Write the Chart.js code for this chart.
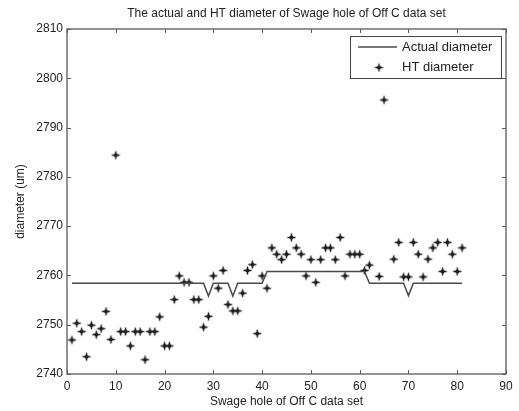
<!DOCTYPE html>
<html>
<head>
<meta charset="utf-8">
<script src="https://cdn.jsdelivr.net/npm/chart.js@4/dist/chart.umd.min.js"></script>
<style>
  html, body { margin: 0; padding: 0; background: #fff; }
  #wrap { width: 519px; height: 411px; }
</style>
</head>
<body>
<div id="wrap"><canvas id="cadre" width="519" height="411"></canvas></div>
<script>
const titleText = "The actual and HT diameter of Swage hole of Off C data set";
const xTitle = "Swage hole of Off C data set";
const yTitle = "diameter (um)";

const holes = [1, 2, 3, 4, 5, 6, 7, 8, 9, 10, 11, 12, 13, 14, 15, 16, 17, 18, 19, 20,
  21, 22, 23, 24, 25, 26, 27, 28, 29, 30, 31, 32, 33, 34, 35, 36, 37, 38, 39, 40,
  41, 42, 43, 44, 45, 46, 47, 48, 49, 50, 51, 52, 53, 54, 55, 56, 57, 58, 59, 60,
  61, 62, 63, 64, 65, 66, 67, 68, 69, 70, 71, 72, 73, 74, 75, 76, 77, 78, 79, 80, 81];

const actualDiameter = [2758.4, 2758.4, 2758.4, 2758.4, 2758.4, 2758.4, 2758.4, 2758.4, 2758.4, 2758.4,
  2758.4, 2758.4, 2758.4, 2758.4, 2758.4, 2758.4, 2758.4, 2758.4, 2758.4, 2758.4,
  2758.4, 2758.4, 2758.4, 2758.4, 2758.4, 2758.4, 2758.4, 2758.4, 2755.8, 2758.4,
  2758.4, 2758.4, 2758.4, 2755.8, 2758.4, 2758.4, 2758.4, 2758.4, 2758.4, 2758.4,
  2760.8, 2760.8, 2760.8, 2760.8, 2760.8, 2760.8, 2760.8, 2760.8, 2760.8, 2760.8,
  2760.8, 2760.8, 2760.8, 2760.8, 2760.8, 2760.8, 2760.8, 2760.8, 2760.8, 2760.8,
  2760.8, 2758.4, 2758.4, 2758.4, 2758.4, 2758.4, 2758.4, 2758.4, 2758.4, 2755.9,
  2758.4, 2758.4, 2758.4, 2758.4, 2758.4, 2758.4, 2758.4, 2758.4, 2758.4, 2758.4, 2758.4];

const htDiameter = [2746.9, 2750.3, 2748.6, 2743.5, 2749.9, 2748.0, 2749.2, 2752.7, 2747.0, 2784.4,
  2748.6, 2748.6, 2745.7, 2748.6, 2748.6, 2742.9, 2748.6, 2748.6, 2751.6, 2745.7,
  2745.7, 2755.1, 2759.9, 2758.6, 2758.6, 2755.1, 2755.1, 2749.5, 2751.7, 2759.9,
  2757.4, 2761.0, 2754.1, 2752.8, 2752.8, 2756.4, 2761.0, 2762.2, 2748.2, 2759.9,
  2757.4, 2765.6, 2764.3, 2763.2, 2764.3, 2767.7, 2765.6, 2764.3, 2759.9, 2763.2,
  2758.6, 2763.2, 2765.6, 2765.6, 2763.2, 2767.7, 2759.9, 2764.3, 2764.3, 2764.3,
  2761.0, 2762.1, null, 2759.8, 2795.6, null, 2763.3, 2766.7, 2759.7, 2759.7,
  2766.7, 2764.3, 2759.7, 2763.3, 2765.6, 2766.7, 2760.8, 2766.7, 2764.3, 2760.8, 2765.6];

const xTicks = [0, 10, 20, 30, 40, 50, 60, 70, 80, 90];
const yTicks = [2740, 2750, 2760, 2770, 2780, 2790, 2800, 2810];

const fontName = "'Liberation Sans', Arial, sans-serif";
const axisColor = "#5a5a5a";

// marker like the blurred matlab star: a plus with a filled diamond in the middle
function makeMarker() {
  let c = document.createElement("canvas");
  c.width = 11;
  c.height = 11;
  let g = c.getContext("2d");
  g.fillStyle = "#1e1e1e";
  g.strokeStyle = "#1e1e1e";
  g.lineWidth = 1.4;
  g.beginPath();
  g.moveTo(5.5, 1.5); g.lineTo(5.5, 9.5);
  g.moveTo(1.5, 5.5); g.lineTo(9.5, 5.5);
  g.stroke();
  g.beginPath();
  g.moveTo(5.5, 2.8); g.lineTo(8.2, 5.5); g.lineTo(5.5, 8.2); g.lineTo(2.8, 5.5);
  g.closePath();
  g.fill();
  return c;
}
const marker = makeMarker();

// frame, inside ticks, titles and legend drawn like the matlab figure
const matlabFrame = {
  id: "matlabFrame",
  afterDraw(chart) {
    const ctx = chart.ctx;
    const area = chart.chartArea;
    const sx = chart.scales.x;
    const sy = chart.scales.y;
    ctx.save();
    ctx.strokeStyle = axisColor;
    ctx.lineWidth = 1.3;
    ctx.strokeRect(area.left, area.top, area.right - area.left, area.bottom - area.top);

    ctx.lineWidth = 1;
    ctx.beginPath();
    xTicks.forEach(v => {
      let px = Math.round(sx.getPixelForValue(v)) + 0.5;
      ctx.moveTo(px, area.bottom);
      ctx.lineTo(px, area.bottom - 4);
      ctx.moveTo(px, area.top);
      ctx.lineTo(px, area.top + 4);
    });
    yTicks.forEach(v => {
      let py = Math.round(sy.getPixelForValue(v)) + 0.5;
      ctx.moveTo(area.left, py);
      ctx.lineTo(area.left + 4, py);
      ctx.moveTo(area.right, py);
      ctx.lineTo(area.right - 4, py);
    });
    ctx.stroke();

    ctx.fillStyle = "#222";
    ctx.textAlign = "center";
    ctx.textBaseline = "middle";
    ctx.font = "12px " + fontName;
    ctx.fillText(titleText, (area.left + area.right) / 2, 14);
    ctx.fillText(xTitle, (area.left + area.right) / 2, 402);

    ctx.save();
    ctx.translate(21, (area.top + area.bottom) / 2);
    ctx.rotate(-Math.PI / 2);
    ctx.fillText(yTitle, 0, 0);
    ctx.restore();

    // legend
    ctx.fillStyle = "#fff";
    ctx.fillRect(350, 36, 152, 43);
    ctx.strokeStyle = "#444";
    ctx.lineWidth = 1;
    ctx.strokeRect(350.5, 36.5, 151, 42);

    const ds = chart.data.datasets;
    ctx.strokeStyle = ds[0].borderColor;
    ctx.lineWidth = ds[0].borderWidth;
    ctx.beginPath();
    ctx.moveTo(358, 47);
    ctx.lineTo(397, 47);
    ctx.stroke();

    ctx.drawImage(marker, 379 - 5.5, 67.5 - 5.5);

    ctx.fillStyle = "#222";
    ctx.textAlign = "left";
    ctx.font = "13px " + fontName;
    ctx.fillText(ds[0].label, 402, 47);
    ctx.fillText(ds[1].label, 402, 67.5);
    ctx.restore();
  }
};

const canvas = document.getElementById("cadre");
const ctx = canvas.getContext("2d");

const chart = new Chart(ctx, {
  type: "line",
  data: {
    datasets: [
      {
        label: "Actual diameter",
        data: holes.map((h, i) => ({ x: h, y: actualDiameter[i] })),
        borderColor: "#4a4a4a",
        borderWidth: 1.5,
        pointRadius: 0,
        fill: false,
        tension: 0,
      },
      {
        label: "HT diameter",
        data: holes.map((h, i) => ({ x: h, y: htDiameter[i] })),
        showLine: false,
        pointStyle: marker,
        pointRadius: 5,
        borderWidth: 0,
      },
    ],
  },
  options: {
    responsive: false,
    animation: false,
    layout: { padding: { left: 0, right: 13, top: 29, bottom: 0 } },
    plugins: { legend: { display: false }, title: { display: false }, tooltip: { enabled: false } },
    scales: {
      x: {
        type: "linear",
        min: 0,
        max: 90,
        grid: { display: false, drawTicks: false, tickLength: 0 },
        border: { display: false },
        afterBuildTicks: (s) => { s.ticks = xTicks.map(v => ({ value: v })); },
        afterFit: (s) => { s.height = 37; },
        ticks: { padding: 5, color: "#222", font: { family: fontName, size: 12 }, maxRotation: 0,
          callback: (v) => String(v) },
      },
      y: {
        type: "linear",
        min: 2740,
        max: 2810,
        grid: { display: false, drawTicks: false, tickLength: 0 },
        border: { display: false },
        afterBuildTicks: (s) => { s.ticks = yTicks.map(v => ({ value: v })); },
        afterFit: (s) => { s.width = 67; },
        ticks: { padding: 4, color: "#222", font: { family: fontName, size: 12 },
          callback: (v) => String(v) },
      },
    },
  },
  plugins: [matlabFrame],
});
</script>
</body>
</html>
